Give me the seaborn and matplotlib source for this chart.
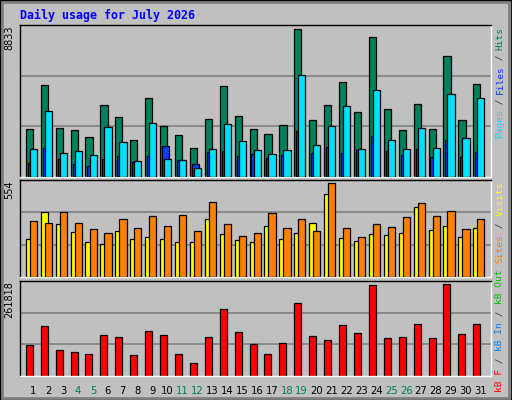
import matplotlib
matplotlib.use("Agg")
import matplotlib.pyplot as plt
import seaborn as sns
import numpy as np
import pandas as pd
from matplotlib.patches import Rectangle

days = list(range(1, 32))
weekend = [4, 5, 11, 12, 18, 19, 25, 26]
hits = [2813,5374,2871,2755,2347,4210,3511,2173,4617,2988,2464,1707,3395,5316,3570,2813,
        2522,3046,8575,3337,4210,5548,3802,8109,3977,2755,4268,2813,7003,3337,5432]
files = [1649,3861,1416,1533,1300,2929,2056,951,3162,1067,1009,543,1649,3104,2115,1591,
         1358,1591,5956,1882,2988,4152,1649,5083,2173,1649,2871,1707,4850,2289,4617]
pages = [834,1707,1067,776,660,1067,1242,892,1242,1824,1009,776,1474,1533,1242,1358,
         1125,1300,2697,1416,1765,1416,1591,2406,1533,1300,1649,1183,2173,1183,1474]
visits = [218,369,305,259,200,189,264,218,229,218,200,200,329,247,212,200,294,218,253,311,
          474,224,206,247,241,253,399,270,294,229,282]
sites = [317,311,369,311,276,253,329,282,346,294,352,264,428,305,235,253,364,282,329,264,
         538,282,229,305,288,340,422,346,375,276,329]
kbytes = [84500,137400,70500,65000,59400,112300,106700,56600,123400,112300,59400,37100,
          106700,184700,120600,87200,59400,90000,201400,109500,98400,140100,117900,251500,
          103900,106700,142900,103900,254300,115100,142900]
max1, max2, max3 = 8833, 554, 261818
title = "Daily usage for July 2026"

sns.set_theme(style="white")
plt.rcParams['font.family'] = ['DejaVu Sans']
BG = "#C0C0C0"
fig = plt.figure(figsize=(5.12, 4.0), dpi=100, facecolor=BG)
fig.patches.append(Rectangle((0, 0), 1, 1, transform=fig.transFigure, fill=False,
                             edgecolor="black", lw=2))
fig.patches.append(Rectangle((0.004, 0.006), 0.99, 0.99, transform=fig.transFigure, fill=False,
                             edgecolor="#808080", lw=2))

x = np.array(days, dtype=float)
W = 0.48
ax1 = fig.add_axes([0.039, 0.5575, 0.92, 0.38])
ax2 = fig.add_axes([0.039, 0.3075, 0.92, 0.2425])
ax3 = fig.add_axes([0.039, 0.06, 0.92, 0.2375])
ek = dict(edgecolor="black", linewidth=0.9, align="edge")
ax1.bar(x - 0.5, hits, W, color="#00805C", **ek, zorder=2)
ax1.bar(x - 0.37, pages, W, color="#0040FF", **ek, zorder=3)
ax1.bar(x - 0.23, files, W, color="#00E0FF", **ek, zorder=4)
ax2.bar(x - 0.5, visits, W, color="#FFFF00", **ek, zorder=2)
ax2.bar(x - 0.23, sites, W, color="#FF8000", **ek, zorder=3)
df = pd.DataFrame({"pos": x - 0.265, "kb": kbytes})
sns.barplot(data=df, x="pos", y="kb", native_scale=True, width=0.47, color="#FF0000",
            saturation=1, edgecolor="black", linewidth=0.9, ax=ax3, zorder=2)

for ax, m, lab in [(ax1, max1, "8833"), (ax2, max2, "554"), (ax3, max3, "261818")]:
    ax.set_facecolor(BG)
    ax.set_xlim(0.107, 31.69)
    ax.set_ylim(0, m)
    for g in (m / 3, 2 * m / 3):
        ax.axhline(g, color="#808080", lw=1.2, zorder=1)
    ax.set_xticks([]); ax.set_yticks([])
    ax.set_xlabel(""); ax.set_ylabel("")
    for s in ax.spines.values():
        s.set_visible(True); s.set_color("black"); s.set_linewidth(1)
    ax.spines["right"].set_color("white"); ax.spines["bottom"].set_color("white")
    ax.text(-0.012, 1.0, lab, transform=ax.transAxes, rotation=90, ha="right", va="top",
            fontsize=7, color="black")

for d in days:
    ax3.text(d, -0.1, str(d), transform=ax3.get_xaxis_transform(), ha="center", va="top",
             fontsize=7.2, color="#00805C" if d in weekend else "black")

fig.text(20 / 512, 1 - 15 / 400, title, ha="left", va="center", fontsize=8.4,
         family="DejaVu Sans Mono", weight="bold", color="#0000FF")

def vlabel(pieces, y_start, cw=5.7, xpx=500):
    y = y_start
    for txt, col in pieces:
        fig.text(xpx / 512, 1 - y / 400, txt, rotation=90, ha="center", va="bottom",
                 fontsize=6.8, family="DejaVu Sans Mono", color=col)
        y -= len(txt) * cw

vlabel([("Pages", "#00E0FF"), (" / ", "#404040"), ("Files", "#0040FF"),
        (" / ", "#404040"), ("Hits", "#00805C")], 138, cw=5.5)
vlabel([("kB F", "#FF0000"), (" / ", "#404040"), ("kB In", "#0080FF"),
        (" / ", "#404040"), ("kB Out", "#00C000"), (" ", "#404040"), ("Sites", "#FF8000"),
        (" / ", "#404040"), ("Visits", "#FFFF00")], 392, cw=5.85)

fig.savefig("out.png", dpi=100, facecolor=BG)
